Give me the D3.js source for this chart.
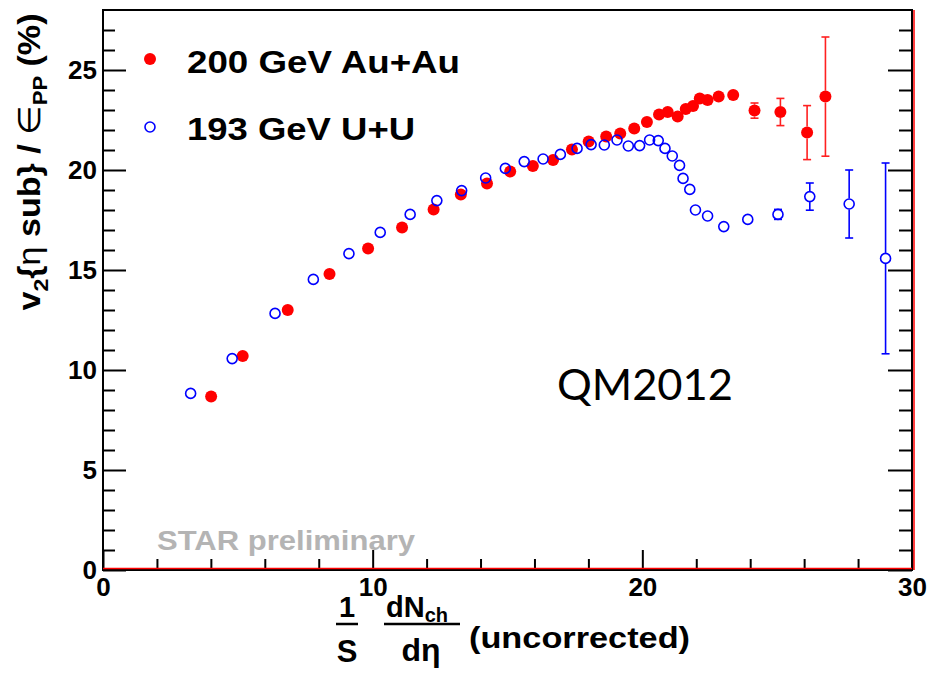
<!DOCTYPE html>
<html>
<head>
<meta charset="utf-8">
<script src="https://cdn.jsdelivr.net/npm/d3@7"></script>
<style>
  body { margin: 0; background: #fff; }
  svg { display: block; font-family: "Liberation Sans", Arial, sans-serif; }
</style>
</head>
<body>
<svg id="chart" width="932" height="678"></svg>
<script>
// 200 GeV Au+Au
var auauX = [4.01, 5.18, 6.85, 8.40, 9.83, 11.09, 12.26, 13.27, 14.24, 15.10, 15.94, 16.69, 17.39, 18.01, 18.66, 19.18,
             19.70, 20.17, 20.62, 20.94, 21.31, 21.61, 21.88, 22.13, 22.42, 22.83, 23.37, 24.16, 25.12, 26.11, 26.79];
var auauY = [8.67, 10.70, 13.00, 14.80, 16.08, 17.13, 18.03, 18.78, 19.33, 19.92, 20.20, 20.50, 21.03, 21.42, 21.67, 21.83,
             22.08, 22.40, 22.78, 22.90, 22.67, 23.05, 23.20, 23.57, 23.50, 23.67, 23.75, 22.97, 22.90, 21.87, 23.67];
var auauErr = [0, 0, 0, 0, 0, 0, 0, 0, 0, 0, 0, 0, 0, 0, 0, 0,
               0, 0, 0, 0, 0, 0, 0, 0, 0, 0, 0, 0.38, 0.68, 1.35, 2.98];

// 193 GeV U+U
var uuX = [3.25, 4.79, 6.38, 7.80, 9.12, 10.28, 11.39, 12.38, 13.30, 14.19, 14.92, 15.62, 16.32, 16.96, 17.58, 18.10, 18.59,
           19.06, 19.48, 19.90, 20.27, 20.59, 20.84, 21.11, 21.38, 21.51, 21.76, 21.97, 22.42, 23.02, 23.91, 25.03, 26.21, 27.67, 29.02];
var uuY = [8.83, 10.57, 12.83, 14.53, 15.82, 16.88, 17.78, 18.47, 18.97, 19.60, 20.08, 20.42, 20.55, 20.78, 21.08, 21.27, 21.25,
           21.50, 21.20, 21.22, 21.50, 21.47, 21.08, 20.70, 20.23, 19.58, 19.03, 18.00, 17.70, 17.17, 17.53, 17.78, 18.67, 18.30, 15.58];
var uuErr = [0, 0, 0, 0, 0, 0, 0, 0, 0, 0, 0, 0, 0, 0, 0, 0, 0,
             0, 0, 0, 0, 0, 0, 0, 0, 0, 0, 0, 0, 0, 0, 0.25, 0.68, 1.70, 4.77];

var xMajor = [0, 10, 20, 30];
var xMinor = d3.range(0, 31, 2);
var yMajor = [0, 5, 10, 15, 20, 25];
var yMinor = d3.range(0, 28, 1);

var legendLabels = ["200 GeV Au+Au", "193 GeV U+U"];

var svg = d3.select("#chart");
var plotL = 103, plotR = 912, plotT = 10, plotB = 570;

var x = d3.scaleLinear().domain([0, 30]).range([plotL, plotR]);
var y = d3.scaleLinear().domain([0, 28]).range([plotB, plotT]);

// axes, ticks pointing into the frame
function styleAxis(g) {
    g.select(".domain").remove();
    g.selectAll("line").attr("stroke", "#000").attr("stroke-width", 2);
    g.selectAll("text").attr("fill", "#000").style("font-size", "26px").style("font-weight", "bold")
        .style("font-family", "'Liberation Sans', Arial, sans-serif");
}

svg.append("g").attr("transform", "translate(" + plotL + ",0)")
    .call(d3.axisLeft(y).tickValues(yMinor.filter(d => d % 5 !== 0)).tickSize(-12).tickFormat(""))
    .call(styleAxis);
svg.append("g").attr("transform", "translate(" + plotL + ",0)")
    .call(d3.axisLeft(y).tickValues(yMajor).tickSize(-23).tickPadding(6))
    .call(styleAxis);

svg.append("g").attr("transform", "translate(" + plotR + ",0)")
    .call(d3.axisRight(y).tickValues(yMinor.filter(d => d % 5 !== 0)).tickSize(-13).tickFormat(""))
    .call(styleAxis);
svg.append("g").attr("transform", "translate(" + plotR + ",0)")
    .call(d3.axisRight(y).tickValues(yMajor).tickSize(-24).tickFormat(""))
    .call(styleAxis);

svg.append("g").attr("transform", "translate(0," + plotB + ")")
    .call(d3.axisBottom(x).tickValues(xMinor.filter(d => d % 10 !== 0)).tickSize(-11).tickFormat(""))
    .call(styleAxis);
svg.append("g").attr("transform", "translate(0," + plotB + ")")
    .call(d3.axisBottom(x).tickValues(xMajor).tickSize(-20).tickPadding(8))
    .call(styleAxis);

// frame
svg.append("rect")
    .attr("x", plotL).attr("y", plotT)
    .attr("width", plotR - plotL).attr("height", plotB - plotT)
    .attr("fill", "none").attr("stroke", "#000").attr("stroke-width", 2);
svg.append("line").attr("x1", plotL).attr("x2", plotR).attr("y1", plotB - 1.5).attr("y2", plotB - 1.5)
    .attr("stroke", "#ff0000").attr("stroke-width", 1.5);
svg.append("line").attr("x1", plotR + 2).attr("x2", plotR + 2).attr("y1", plotT).attr("y2", plotB)
    .attr("stroke", "#ff0000").attr("stroke-width", 1.5);

// STAR preliminary
svg.append("text")
    .attr("x", 157).attr("y", 550)
    .attr("textLength", 258).attr("lengthAdjust", "spacingAndGlyphs")
    .style("font-size", "27px").style("font-weight", "bold").attr("fill", "#b4b4b4")
    .text("STAR preliminary");

// QM2012
svg.append("text")
    .attr("x", 557).attr("y", 400)
    .attr("textLength", 176).attr("lengthAdjust", "spacingAndGlyphs")
    .style("font-family", "Lato, 'Open Sans', sans-serif").style("font-size", "42px").attr("fill", "#000")
    .text("QM2012");

// error bars
function drawErrors(xs, ys, errs, color, r) {
    var g = svg.append("g").attr("stroke", color).attr("stroke-width", 1.6);
    xs.forEach(function (xv, i) {
        if (!errs[i]) return;
        var cx = x(xv), cy = y(ys[i]), yl = y(ys[i] - errs[i]), yh = y(ys[i] + errs[i]);
        if (yl - cy > r) g.append("line").attr("x1", cx).attr("x2", cx).attr("y1", cy + r).attr("y2", yl);
        if (cy - yh > r) g.append("line").attr("x1", cx).attr("x2", cx).attr("y1", yh).attr("y2", cy - r);
        g.append("line").attr("x1", cx - 4).attr("x2", cx + 4).attr("y1", yl).attr("y2", yl);
        g.append("line").attr("x1", cx - 4).attr("x2", cx + 4).attr("y1", yh).attr("y2", yh);
    });
}

drawErrors(auauX, auauY, auauErr, "#ff2020", 6);
svg.append("g").selectAll("circle")
    .data(auauX)
    .join("circle")
    .attr("cx", d => x(d))
    .attr("cy", (d, i) => y(auauY[i]))
    .attr("r", 6)
    .attr("fill", "#ff0000");

drawErrors(uuX, uuY, uuErr, "#0000ff", 5.5);
svg.append("g").selectAll("circle")
    .data(uuX)
    .join("circle")
    .attr("cx", d => x(d))
    .attr("cy", (d, i) => y(uuY[i]))
    .attr("r", 5)
    .attr("fill", "none")
    .attr("stroke", "#0000ff")
    .attr("stroke-width", 1.6);

// legend
svg.append("circle").attr("cx", 150).attr("cy", 59).attr("r", 6).attr("fill", "#ff0000");
svg.append("circle").attr("cx", 150).attr("cy", 127).attr("r", 5)
    .attr("fill", "none").attr("stroke", "#0000ff").attr("stroke-width", 1.6);
svg.append("text").attr("x", 187).attr("y", 73)
    .attr("textLength", 273).attr("lengthAdjust", "spacingAndGlyphs")
    .style("font-size", "32px").style("font-weight", "bold").text(legendLabels[0]);
svg.append("text").attr("x", 187).attr("y", 140)
    .attr("textLength", 228).attr("lengthAdjust", "spacingAndGlyphs")
    .style("font-size", "32px").style("font-weight", "bold").text(legendLabels[1]);

// y title
var yt = svg.append("text")
    .attr("transform", "translate(40,162) rotate(-90)")
    .attr("text-anchor", "middle")
    .attr("textLength", 297).attr("lengthAdjust", "spacingAndGlyphs")
    .style("font-size", "31px").style("font-weight", "bold");
yt.append("tspan").text("v");
yt.append("tspan").attr("dy", 8).style("font-size", "21px").text("2");
yt.append("tspan").attr("dy", -8).text("{");
yt.append("tspan").style("font-weight", "normal").text("η");
yt.append("tspan").text(" sub} / ");
yt.append("tspan").style("font-weight", "normal").text("∈");
yt.append("tspan").attr("dy", 7).style("font-size", "20px").text("PP");
yt.append("tspan").attr("dy", -7).text(" (%)");

// x title
var xt = svg.append("g").style("font-weight", "bold");
xt.append("text").attr("x", 347).attr("y", 617).attr("text-anchor", "middle").style("font-size", "29px").text("1");
xt.append("line").attr("x1", 336).attr("x2", 358).attr("y1", 624).attr("y2", 624).attr("stroke", "#000").attr("stroke-width", 2.5);
xt.append("text").attr("x", 347).attr("y", 662).attr("text-anchor", "middle").style("font-size", "31px").text("S");
var dn = xt.append("text").attr("x", 386).attr("y", 617).style("font-size", "29px");
dn.append("tspan").text("dN");
dn.append("tspan").attr("dy", 5).style("font-size", "20px").text("ch");
xt.append("line").attr("x1", 384).attr("x2", 460).attr("y1", 624).attr("y2", 624).attr("stroke", "#000").attr("stroke-width", 2.5);
xt.append("text").attr("x", 421).attr("y", 661).attr("text-anchor", "middle").style("font-size", "32px").text("dη");
xt.append("text").attr("x", 469).attr("y", 648)
    .attr("textLength", 221).attr("lengthAdjust", "spacingAndGlyphs")
    .style("font-size", "30px").text("(uncorrected)");
</script>
</body>
</html>
